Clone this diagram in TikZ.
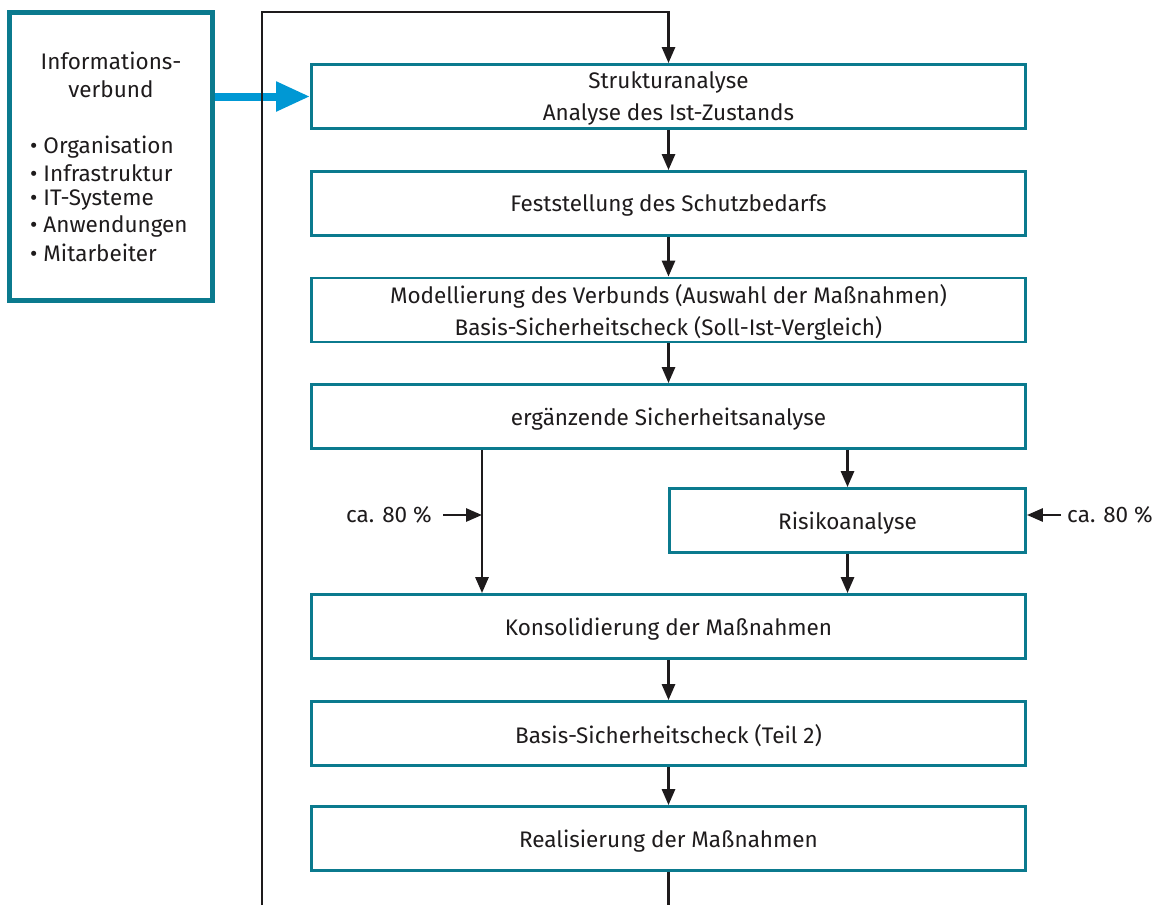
\documentclass[tikz,border=0pt]{standalone}
\usepackage{fontspec}
\setmainfont{Fira Sans}
\usetikzlibrary{arrows.meta}
\definecolor{teal}{HTML}{0B7A8E}
\definecolor{bluearr}{HTML}{0098D4}
\definecolor{txt}{HTML}{1E1B1C}
\begin{document}
\begin{tikzpicture}[x=1pt,y=-1pt,
  font=\fontsize{22.5}{26}\selectfont,
  every node/.style={text=txt},
  stepbox/.style={draw=teal,line width=2.8pt,minimum width=714pt,minimum height=64pt,inner sep=0pt,align=center,text depth=0pt},
  riskbox/.style={stepbox,minimum width=356pt},
  infobox/.style={draw=teal,line width=5.5pt,minimum width=203pt,minimum height=288pt,inner sep=0pt},
  arr/.style={draw=txt,line width=2.8pt,-{Triangle[length=16pt,width=13pt]}},
  plain/.style={draw=txt,line width=2.8pt},
  bigarr/.style={draw=bluearr,line width=8pt,-{Triangle[length=34pt,width=28pt]}},
  lbl/.style={inner sep=0pt,anchor=west}
]
\useasboundingbox (0,0) rectangle (1159,905);
% info box
\node[infobox] (info) at (111,156.5) {};
\node[inner sep=0pt,align=center] (infot) at (111,75) {Informations-\\[2pt]verbund};
\node[lbl] (b1) at (30,147) {• Organisation};
\node[lbl] (b2) at (30,173.5) {• Infrastruktur};
\node[lbl] (b3) at (30,200) {• IT-Systeme};
\node[lbl] (b4) at (30,226.5) {• Anwendungen};
\node[lbl] (b5) at (30,253) {• Mitarbeiter};
% steps
\node[stepbox] (s1) at (668.5,96.5) {Strukturanalyse\\[6pt]Analyse des Ist-Zustands};
\node[stepbox] (s2) at (668.5,203.5) {Feststellung des Schutzbedarfs};
\node[stepbox] (s3) at (668.5,310) {Modellierung des Verbunds (Auswahl der Maßnahmen)\\[6pt]Basis-Sicherheitscheck (Soll-Ist-Vergleich)};
\node[stepbox] (s4) at (668.5,416.5) {ergänzende Sicherheitsanalyse};
\node[riskbox] (risk) at (847.5,520.5) {Risikoanalyse};
\node[stepbox] (s5) at (668.5,626.5) {Konsolidierung der Maßnahmen};
\node[stepbox] (s6) at (668.5,733.5) {Basis-Sicherheitscheck (Teil 2)};
\node[stepbox] (s7) at (668.5,838.5) {Realisierung der Maßnahmen};
% labels
\node[inner sep=0pt,anchor=east] (la) at (432,515) {ca. 80 \%};
\node[inner sep=0pt,anchor=west] (lb) at (1067,515) {ca. 80 \%};
% coordinates
\coordinate (lx) at (482,0);
\coordinate (rx) at (847.5,0);
\coordinate (loopb) at (262,905);
\coordinate (loopt) at (262,12);
\coordinate (loopr) at (668.5,12);
\coordinate (endb) at (668.5,905);
% connectors
\draw[bigarr] (info.east |- s1.west) -- (s1.west);
\draw[arr] (loopb) -- (loopt) -- (loopr) -- (s1.north);
\draw[arr] (s1) -- (s2);
\draw[arr] (s2) -- (s3);
\draw[arr] (s3) -- (s4);
\draw[arr] (s4.south -| lx) -- (s5.north -| lx);
\draw[arr] (s4.south -| rx) -- (risk.north);
\draw[arr] (risk.south) -- (s5.north -| rx);
\draw[arr] (s5) -- (s6);
\draw[arr] (s6) -- (s7);
\draw[plain] (s7.south) -- (endb);
\draw[arr] ([xshift=11pt]la.east) -- (la.east -| lx);
\draw[arr] ([xshift=-6pt]lb.west) -- (risk.east |- lb.west);
\end{tikzpicture}
\end{document}
